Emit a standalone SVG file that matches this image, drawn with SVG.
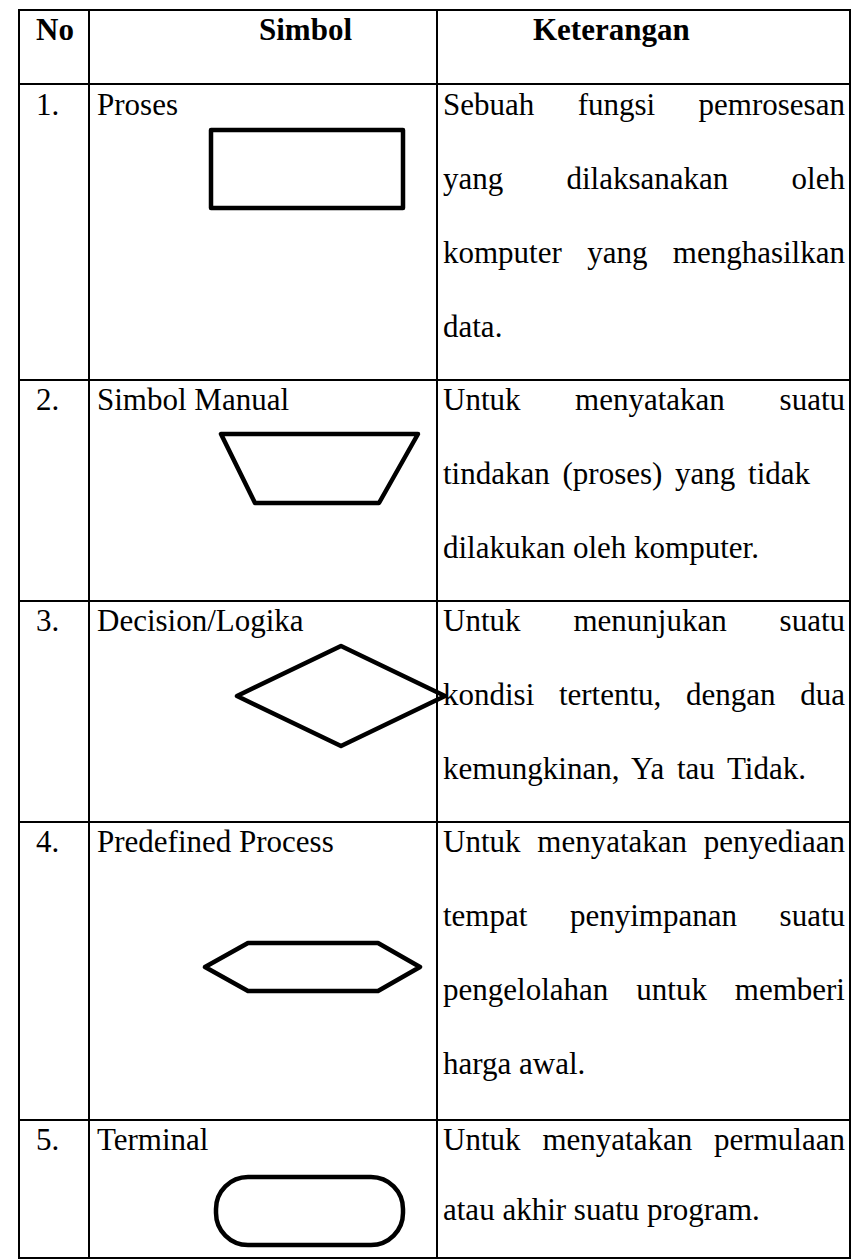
<svg xmlns="http://www.w3.org/2000/svg" width="852" height="1260" viewBox="0 0 852 1260">
<style>
text{font-family:"Liberation Serif","Times New Roman",serif;font-size:31px;fill:#000}
.b{font-weight:bold}
.ws{word-spacing:5px}
.grid{stroke:#000;stroke-width:2;fill:none}
.sym{stroke:#000;stroke-width:4.5;fill:none;stroke-linejoin:round}
</style>
<rect width="852" height="1260" fill="#fff"/>
<g id="grid" class="grid">
<rect x="19" y="10" width="831" height="1248"/>
<line x1="89" y1="10" x2="89" y2="1258"/>
<line x1="437" y1="10" x2="437" y2="1258"/>
<line x1="19" y1="84" x2="850" y2="84"/>
<line x1="19" y1="380" x2="850" y2="380"/>
<line x1="19" y1="601" x2="850" y2="601"/>
<line x1="19" y1="822" x2="850" y2="822"/>
<line x1="19" y1="1120" x2="850" y2="1120"/>
</g>
<g id="header">
<text class="b" x="36" y="40">No</text>
<text class="b" x="259" y="40">Simbol</text>
<text class="b" x="533" y="40">Keterangan</text>
</g>
<g id="row1">
<text x="36" y="115">1.</text>
<text x="97" y="115">Proses</text>
<rect class="sym" x="211" y="130" width="192" height="78"/>
<text y="115"><tspan x="443">Sebuah</tspan><tspan x="577.7">fungsi</tspan><tspan x="698.6">pemrosesan</tspan></text>
<text y="189"><tspan x="443">yang</tspan><tspan x="566.5">dilaksanakan</tspan><tspan x="791.6">oleh</tspan></text>
<text y="263"><tspan x="443">komputer</tspan><tspan x="587.2">yang</tspan><tspan x="672.8">menghasilkan</tspan></text>
<text x="443" y="337">data.</text>
</g>
<g id="row2">
<text x="36" y="410">2.</text>
<text x="97" y="410">Simbol Manual</text>
<polygon class="sym" points="221,434 418,434 379,503 255,503"/>
<text y="410"><tspan x="443">Untuk</tspan><tspan x="575.1">menyatakan</tspan><tspan x="779.6">suatu</tspan></text>
<text class="ws" x="443" y="484">tindakan (proses) yang tidak</text>
<text x="443" y="558">dilakukan oleh komputer.</text>
</g>
<g id="row3">
<text x="36" y="631">3.</text>
<text x="97" y="631">Decision/Logika</text>
<polygon class="sym" points="341,646 445,696 341,746 237,696"/>
<text y="631"><tspan x="443">Untuk</tspan><tspan x="573.4">menunjukan</tspan><tspan x="779.6">suatu</tspan></text>
<text y="705"><tspan x="443">kondisi</tspan><tspan x="558.9">tertentu,</tspan><tspan x="686">dengan</tspan><tspan x="800.2">dua</tspan></text>
<text class="ws" x="443" y="779">kemungkinan, Ya tau Tidak.</text>
</g>
<g id="row4">
<text x="36" y="852">4.</text>
<text x="97" y="852">Predefined Process</text>
<polygon class="sym" points="205,967 248,943 378,943 420,967 378,991 248,991"/>
<text y="852"><tspan x="443">Untuk</tspan><tspan x="537.3">menyatakan</tspan><tspan x="703.8">penyediaan</tspan></text>
<text y="926"><tspan x="443">tempat</tspan><tspan x="570">penyimpanan</tspan><tspan x="779.6">suatu</tspan></text>
<text y="1000"><tspan x="443">pengelolahan</tspan><tspan x="636.3">untuk</tspan><tspan x="734.8">memberi</tspan></text>
<text x="443" y="1074">harga awal.</text>
</g>
<g id="row5">
<text x="36" y="1150">5.</text>
<text x="97" y="1150">Terminal</text>
<rect class="sym" x="216" y="1177" width="187" height="68" rx="32" ry="32"/>
<text y="1150"><tspan x="443">Untuk</tspan><tspan x="542.4">menyatakan</tspan><tspan x="714.1">permulaan</tspan></text>
<text x="443" y="1220">atau akhir suatu program.</text>
</g>
</svg>
